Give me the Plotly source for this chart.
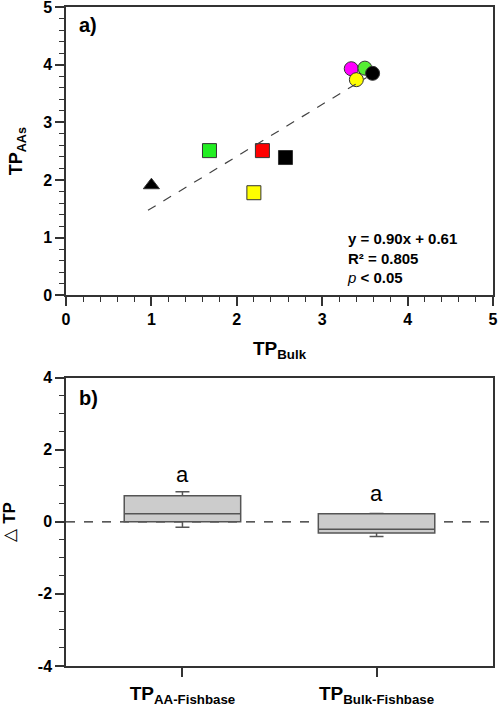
import plotly.graph_objects as go

# panel a) TP bulk vs TP amino acids
tp_bulk = [1.00, 1.68, 2.20, 2.30, 2.57, 3.34, 3.50, 3.40, 3.59]
tp_aas = [1.91, 2.51, 1.78, 2.51, 2.39, 3.93, 3.94, 3.74, 3.85]
symbols = ["triangle-up", "square", "square", "square", "square",
           "circle", "circle", "circle", "circle"]
colors = ["#000000", "#22ee22", "#ffff00", "#ff0000", "#000000",
          "#ff00ff", "#55ee33", "#ffff00", "#000000"]
slope, intercept = 0.90, 0.61

# panel b) delta TP boxes
groups = [1, 2]
group_labels = ["<b>TP<sub>AA-Fishbase</sub></b>", "<b>TP<sub>Bulk-Fishbase</sub></b>"]
q1 = [0.00, -0.31]
med = [0.22, -0.21]
q3 = [0.72, 0.22]
low = [-0.15, -0.41]
high = [0.83, 0.23]
letters = ["a", "a"]
letter_y = [1.31, 0.79]
dtp_ticks = [-4, -2, 0, 2, 4]
dtp_labels = ["-4", "-2", "0", "2", "4"]

font = "Liberation Sans"
bold = dict(family=font, size=16, color="black", weight="bold")

fig = go.Figure()

for i in range(len(tp_bulk)):
    fig.add_trace(go.Scatter(
        x=[tp_bulk[i]], y=[tp_aas[i]], mode="markers",
        marker=dict(symbol=symbols[i], color=colors[i], size=14,
                    line=dict(color="#333333", width=1)),
        xaxis="x", yaxis="y", showlegend=False))

xfit = [min(tp_bulk) - 0.04, max(tp_bulk) - 0.07]
yfit = [slope * v + intercept for v in xfit]
fig.add_trace(go.Scatter(x=xfit, y=yfit, mode="lines",
                         line=dict(color="#444444", width=1.2, dash="dash"),
                         xaxis="x", yaxis="y", showlegend=False))

fig.add_trace(go.Box(
    x=groups, q1=q1, median=med, q3=q3, lowerfence=low, upperfence=high,
    width=0.6, whiskerwidth=0.12, fillcolor="#cccccc",
    line=dict(color="#555555", width=1.5),
    xaxis="x2", yaxis="y2", showlegend=False))

axis_common = dict(showline=True, linecolor="#333333", linewidth=1.5, mirror=True,
                   ticks="outside", tickcolor="#333333", ticklen=9, tickwidth=1.5,
                   showgrid=False, zeroline=False, tickfont=bold, automargin=False,
                   ticklabeloverflow="allow")
minor_common = dict(ticklen=5, ticks="outside", tickcolor="#333333", tickwidth=1.2)

fig.update_layout(
    width=498, height=712,
    margin=dict(l=66, r=5, t=7, b=46),
    plot_bgcolor="white", paper_bgcolor="white",
    xaxis=dict(domain=[0, 1], range=[0, 5], dtick=1, anchor="y",
               minor=dict(dtick=0.2, **minor_common),
               title=dict(text="<b>TP<sub>Bulk</sub></b>", standoff=14,
                          font=dict(family=font, size=19, color="black")),
               **axis_common),
    yaxis=dict(domain=[0.5624, 1], range=[0, 5], dtick=1, anchor="x",
               minor=dict(dtick=0.2, **minor_common),
               title=dict(text="<b>TP<sub>AAs</sub></b>", standoff=16,
                          font=dict(family=font, size=18, color="black")),
               **axis_common),
    xaxis2=dict(domain=[0, 1], range=[0.4, 2.6], anchor="y2",
                tickvals=groups, ticktext=group_labels,
                **{**axis_common, "tickfont": dict(family=font, size=19, color="black")}),
    yaxis2=dict(domain=[0, 0.4377], range=[-4, 4], anchor="x2",
                tickvals=dtp_ticks, ticktext=dtp_labels,
                minor=dict(dtick=0.5, **minor_common),
                title=dict(text="△ <b>TP</b>", standoff=19,
                           font=dict(family=font, size=17, color="black")),
                **axis_common),
)

fig.add_shape(type="line", xref="x2 domain", yref="y2", x0=0, x1=1, y0=0, y1=0,
              line=dict(color="#222222", width=1.3, dash="dash"), layer="below")

fig.add_annotation(xref="x domain", yref="y domain", x=0.025, y=0.938,
                   text="<b>a)</b>", showarrow=False, xanchor="left", yanchor="middle",
                   font=dict(family=font, size=20, color="black"))
fig.add_annotation(xref="x2 domain", yref="y2 domain", x=0.025, y=0.93,
                   text="<b>b)</b>", showarrow=False, xanchor="left", yanchor="middle",
                   font=dict(family=font, size=20, color="black"))
fig.add_annotation(xref="x", yref="y", x=3.27, y=0.65, xanchor="left",
                   text="<b>y = 0.90x + 0.61</b><br><b>R² = 0.805</b><br><i>p</i> <b>&lt; 0.05</b>",
                   showarrow=False, align="left",
                   font=dict(family=font, size=15, color="black"))
for g, t, yy in zip(groups, letters, letter_y):
    fig.add_annotation(xref="x2", yref="y2", x=g, y=yy, text=t, showarrow=False,
                       font=dict(family=font, size=22, color="black"))

# drop the browser's default body margin so the figure fills the window
fig.write_html("out.html", config={"displayModeBar": False},
               post_script="document.body.style.margin='0';")
